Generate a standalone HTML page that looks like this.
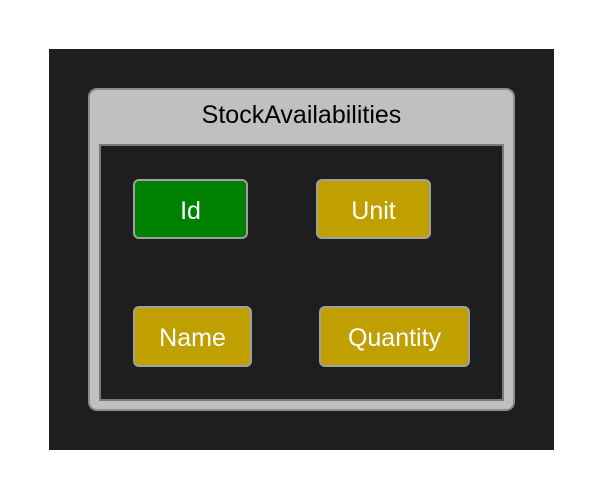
<!DOCTYPE html>
<html><head><meta charset="utf-8"><style>
body{margin:0;width:603px;height:499px;background:#fff;position:relative;overflow:hidden;font-family:"Liberation Sans",sans-serif}
div{position:absolute;box-sizing:border-box}
.bg{left:49px;top:49px;width:505px;height:401px;background:#1e1e1e}
.panel{left:88px;top:88px;width:427px;height:323px;background:#c0c0c0;border:2px solid #8c8c8c;border-radius:9px}
.title{left:88px;top:101px;width:427px;text-align:center;font-size:25px;color:#000}
.inner{left:99px;top:144px;width:405px;height:257px;background:#1e1e1e;border:2px solid #7a7a7a}
.f{border:2px solid #a0a0a0;border-radius:6px;color:#fff;font-size:25px;display:flex;align-items:center;justify-content:center;padding-top:4px}
.g{background:#008000}.y{background:#c0a000}
</style></head><body>
<div class="bg"></div>
<div class="panel"></div>
<div class="title">StockAvailabilities</div>
<div class="inner"></div>
<div class="f g" style="left:133px;top:179px;width:115px;height:60px">Id</div>
<div class="f y" style="left:316px;top:179px;width:115px;height:60px">Unit</div>
<div class="f y" style="left:133px;top:306px;width:119px;height:61px">Name</div>
<div class="f y" style="left:319px;top:306px;width:151px;height:61px">Quantity</div>
</body></html>
